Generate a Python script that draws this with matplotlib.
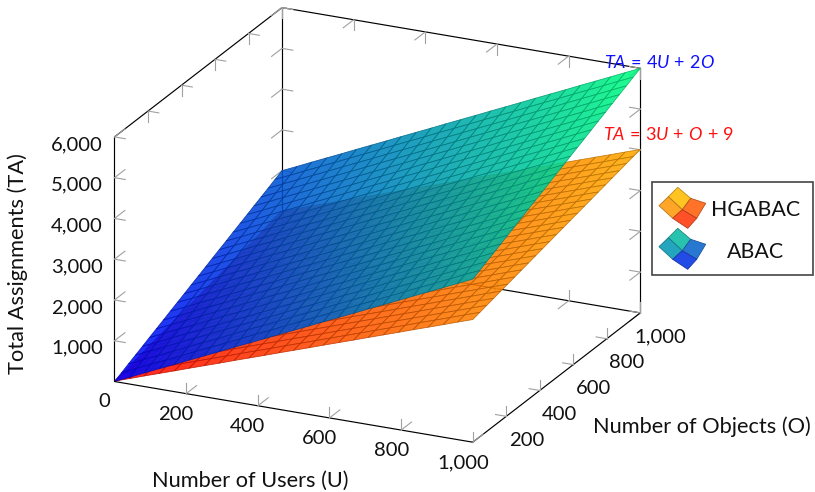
import matplotlib
matplotlib.use("Agg")
import matplotlib.pyplot as plt
import numpy as np
from matplotlib.patches import Rectangle
from matplotlib.collections import PolyCollection
from mpl_toolkits.mplot3d.art3d import Poly3DCollection
from mpl_toolkits.mplot3d import proj3d

plt.rcParams['font.family'] = ['Lato', 'DejaVu Sans']
plt.rcParams['mathtext.fontset'] = 'custom'
plt.rcParams['mathtext.rm'] = 'Lato'
plt.rcParams['mathtext.it'] = 'Lato:italic'

# sample positions on the two floor axes
users = [0, 42, 83, 125, 167, 208, 250, 292, 333, 375, 417, 458, 500,
         542, 583, 625, 667, 708, 750, 792, 833, 875, 917, 958, 1000]
objects = [0, 42, 83, 125, 167, 208, 250, 292, 333, 375, 417, 458, 500,
           542, 583, 625, 667, 708, 750, 792, 833, 875, 917, 958, 1000]

# TA along the front edge (O=0) and what each object sample adds to it
abac_front = [0, 167, 333, 500, 667, 833, 1000, 1167, 1333, 1500, 1667, 1833, 2000,
              2167, 2333, 2500, 2667, 2833, 3000, 3167, 3333, 3500, 3667, 3833, 4000]
abac_added = [0, 83, 167, 250, 333, 417, 500, 583, 667, 750, 833, 917, 1000,
              1083, 1167, 1250, 1333, 1417, 1500, 1583, 1667, 1750, 1833, 1917, 2000]
hgabac_front = [9, 134, 259, 384, 509, 634, 759, 884, 1009, 1134, 1259, 1384, 1509,
                1634, 1759, 1884, 2009, 2134, 2259, 2384, 2509, 2634, 2759, 2884, 3009]
hgabac_added = [0, 42, 83, 125, 167, 208, 250, 292, 333, 375, 417, 458, 500,
                542, 583, 625, 667, 708, 750, 792, 833, 875, 917, 958, 1000]

user_ticks = [0, 200, 400, 600, 800, 1000]
object_ticks = [200, 400, 600, 800, 1000]
ta_ticks = [1000, 2000, 3000, 4000, 5000, 6000]
legend_names = ["HGABAC", "ABAC"]

W, H = 815, 492
UMAX, OMAX, TMAX = 1000, 1000, 6000
fig = plt.figure(figsize=(W / 100, H / 100), dpi=100)

ax = fig.add_axes([0, 0, 1, 1], projection='3d', proj_type='ortho', computed_zorder=False)
ax.set_axis_off()
ax.patch.set_alpha(0)
ax.set_xlim(0, UMAX, view_margin=0)
ax.set_ylim(0, OMAX, view_margin=0)
ax.set_zlim(0, TMAX, view_margin=0)
ax.view_init(elev=21.2, azim=-64.9)
ax.set_box_aspect((395.6, 394.8, 262.3))


def to_px(u, o, t):
    xs, ys, _ = proj3d.proj_transform(u, o, t, ax.get_proj())
    x, y = ax.transData.transform((xs, ys))
    return x, H - y


# move the square axes so the box lands on the corners of the reference
size = 1000.0
ax.set_position([0.5 - size / W / 2, 0.5 - size / H / 2, size / W, size / H])
ax.apply_aspect()
x0, _ = to_px(0, 0, 0)
x1, _ = to_px(UMAX, 0, 0)
size = size * 358.3 / (x1 - x0)
ax.set_position([0.5 - size / W / 2, 0.5 - size / H / 2, size / W, size / H])
ax.apply_aspect()
x0, y0 = to_px(0, 0, 0)
dx, dy = 114.5 - x0, 381.5 - y0
ax.set_position([0.5 - size / W / 2 + dx / W, 0.5 - size / H / 2 - dy / H, size / W, size / H])
ax.apply_aspect()


def surface(front, added, cmap, z):
    U, O = np.meshgrid(users, objects, indexing='ij')
    T = np.add.outer(front, added)
    polys, vals = [], []
    for i in range(len(users) - 1):
        for j in range(len(objects) - 1):
            idx = [(i, j), (i + 1, j), (i + 1, j + 1), (i, j + 1)]
            polys.append([(U[k], O[k], T[k]) for k in idx])
            vals.append(np.mean([T[k] for k in idx]))
    face = plt.get_cmap(cmap)(np.array(vals) / TMAX)
    edge = face.copy()
    edge[:, :3] *= 0.72
    face[:, 3] = 0.88
    edge[:, 3] = 0.88
    ax.add_collection3d(Poly3DCollection(polys, facecolors=face, edgecolors=edge,
                                         linewidths=0.55, zorder=z), autolim=False)


def edge_line(p, q, z):
    ax.plot([p[0], q[0]], [p[1], q[1]], [p[2], q[2]], color='black', lw=0.85, zorder=z,
            solid_capstyle='round')


def tick(p, a, b, z):
    # each tick is two short strokes along the box directions a and b
    for d in (a, b):
        ax.plot([p[0], p[0] + d[0]], [p[1], p[1] + d[1]], [p[2], p[2] + d[2]],
                color='#a0a0a0', lw=0.8, zorder=z)


tu, to, tz = 30, 62, 262
# back of the box, behind the surfaces
for p, q in [((0, OMAX, 0), (0, OMAX, TMAX)), ((0, 0, 0), (0, OMAX, 0)),
             ((0, OMAX, 0), (UMAX, OMAX, 0)), ((0, 0, TMAX), (0, OMAX, TMAX)),
             ((0, OMAX, TMAX), (UMAX, OMAX, TMAX)), ((0, 0, 0), (0, 0, TMAX)),
             ((UMAX, OMAX, 0), (UMAX, OMAX, TMAX))]:
    edge_line(p, q, 1)
for u in user_ticks[1:]:
    tick((u, OMAX, 0), (0, -to, 0), (0, 0, tz), 1)
    tick((u, OMAX, TMAX), (0, -to, 0), (0, 0, -tz), 1)
for o in object_ticks:
    tick((0, o, TMAX), (tu, 0, 0), (0, 0, -tz), 1)
    tick((0, o, 0), (tu, 0, 0), (0, 0, tz), 1)
for t in ta_ticks:
    tick((0, 0, t), (tu, 0, 0), (0, to, 0), 1)
    tick((0, OMAX, t), (tu, 0, 0), (0, -to, 0), 1)
    tick((UMAX, OMAX, t), (-tu, 0, 0), (0, -to, 0), 1)

surface(hgabac_front, hgabac_added, 'autumn', 2)
surface(abac_front, abac_added, 'winter', 3)

# front floor edges
edge_line((0, 0, 0), (UMAX, 0, 0), 4)
edge_line((UMAX, 0, 0), (UMAX, OMAX, 0), 4)
for u in user_ticks[1:]:
    tick((u, 0, 0), (0, to, 0), (0, 0, tz), 4)
for o in object_ticks:
    tick((UMAX, o, 0), (-tu, 0, 0), (0, 0, tz), 4)

# overlay in pixels for the text and the legend
top = fig.add_axes([0, 0, 1, 1], zorder=10)
top.set_xlim(0, W)
top.set_ylim(H, 0)
top.set_axis_off()
top.patch.set_alpha(0)

tick_font = 14.6
label_font = 15.7
for u in user_ticks:
    x, y = to_px(u, 0, 0)
    top.text(x - 10, y + 20.5, f"{u:,}", ha='center', va='center', fontsize=tick_font, color='#111111')
for o in object_ticks:
    x, y = to_px(UMAX, o, 0)
    top.text(x + 20, y + 24, f"{o:,}", ha='center', va='center', fontsize=tick_font, color='#111111')
for t in ta_ticks:
    x, y = to_px(0, 0, t)
    top.text(x - 11.5, y + 7.5, f"{t:,}", ha='right', va='center', fontsize=tick_font, color='#111111')

top.text(250, 481, "Number of Users (U)", ha='center', va='center', fontsize=label_font, color='#111111')
top.text(701.5, 427, "Number of Objects (O)", ha='center', va='center', fontsize=label_font, color='#111111')
top.text(18, 264, "Total Assignments (TA)", rotation=90, ha='center', va='center', fontsize=label_font, color='#111111')

x, y = to_px(UMAX, OMAX, TMAX)
top.text(x + 19, y - 5.5, r"$\mathit{TA}\,=\,4\mathit{U}\,+\,2\mathit{O}$", ha='center', va='center',
         fontsize=13, color='#1010ff')
x, y = to_px(UMAX, OMAX, hgabac_front[-1] + hgabac_added[-1])
top.text(x + 28, y - 14.5, r"$\mathit{TA}\,=\,3\mathit{U}\,+\,\mathit{O}\,+\,9$", ha='center', va='center',
         fontsize=13, color='#ff1010')

top.add_patch(Rectangle((651.7, 181.7), 161.6, 93.3, facecolor='white', edgecolor='#444444', lw=1.2))
# legend glyph: small 2x2 surface patch
glyph = [[(677.7, 187.3), (690.7, 198.3), (705.7, 203.3)],
         [(668.3, 196.7), (682.3, 209.7), (696.7, 218.3)],
         [(659.0, 205.7), (672.7, 218.3), (687.7, 228.3)]]
cell_nodes = [(0, 0), (1, 0), (0, 1), (1, 1)]
glyph_colors = [['#ffc322', '#ffa528', '#ff7328', '#ff5028'],
                ['#28c3af', '#23a5be', '#2878d2', '#234be6']]
for n, name in enumerate(legend_names):
    cells = []
    for r, c in cell_nodes:
        cells.append([(glyph[r + a][c + b][0], glyph[r + a][c + b][1] + 41 * n)
                      for a, b in [(0, 0), (0, 1), (1, 1), (1, 0)]])
    edges = [np.array(matplotlib.colors.to_rgb(col)) * 0.72 for col in glyph_colors[n]]
    top.add_collection(PolyCollection(cells, facecolors=glyph_colors[n], edgecolors=edges, linewidths=0.6))
    top.text(755.5, 210 + 41.7 * n, name, ha='center', va='center', fontsize=15.4, color='#111111')

fig.savefig("out.png", dpi=100)
